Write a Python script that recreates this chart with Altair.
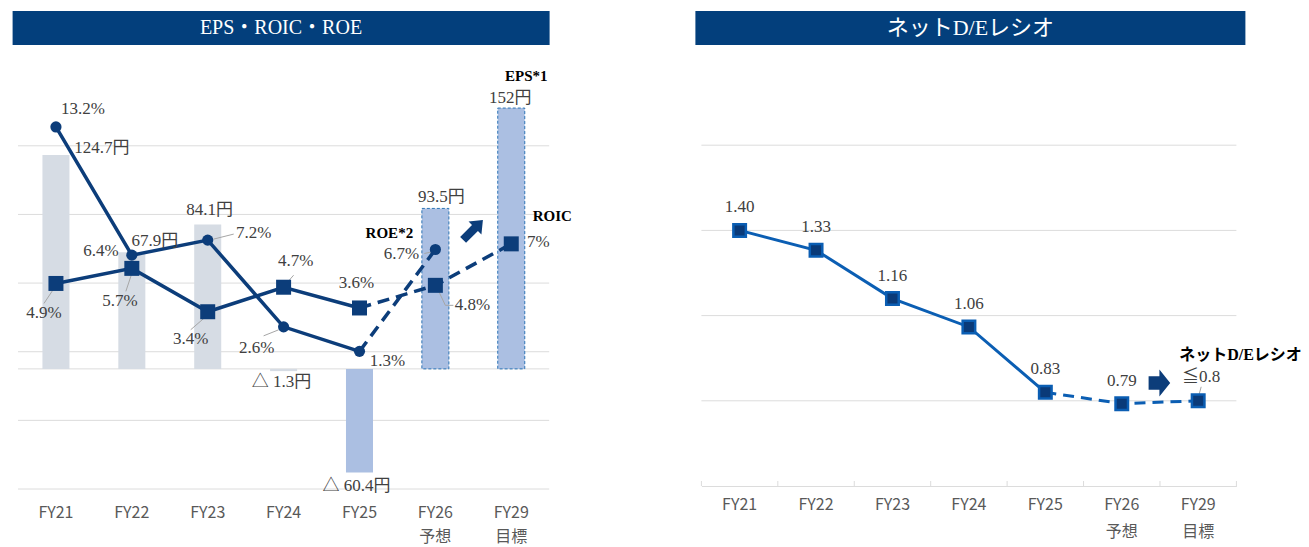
import altair as alt
import pandas as pd

# ---------------- data ----------------
cats = ["FY21", "FY22", "FY23", "FY24", "FY25", "FY26", "FY29"]
sub_labels = {"FY26": "予想", "FY29": "目標"}
eps = [124.7, 67.9, 84.1, -1.3, -60.4, 93.5, 152.0]
roe = [13.2, 6.4, 7.2, 2.6, 1.3, 6.7, None]
roic = [4.9, 5.7, 3.4, 4.7, 3.6, 4.8, 7.0]
net_de = [1.40, 1.33, 1.16, 1.06, 0.83, 0.79, 0.80]
eps_gridlines = [-70, -30, 0, 10, 50, 90, 130]
de_gridlines = [0.8, 1.1, 1.4, 1.7]
left_title = "EPS・ROIC・ROE"
right_title = "ネットD/Eレシオ"
actual_cats = ["FY21", "FY22", "FY23", "FY24", "FY25"]
plan_cats = ["FY25", "FY26", "FY29"]
blue_bar_cats = ["FY25", "FY26", "FY29"]
dashed_bar_cats = ["FY26", "FY29"]


def pct_txt(v):
    return None if v is None else f"{v:g}%"


def eps_txt(v):
    return f"△ {-v:g}円" if v < 0 else f"{v:g}円"


de_txt = [f"{v:.2f}" for v in net_de[:-1]] + [f"≦{net_de[-1]:g}"]

df = pd.DataFrame({
    "cat": cats,
    "eps": eps,
    "roe": roe,
    "roic": roic,
    "de": net_de,
    "roe_txt": [pct_txt(v) for v in roe],
    "roic_txt": [pct_txt(v) for v in roic],
    "eps_txt": [eps_txt(v) for v in eps],
    "de_txt": de_txt,
})

# ---------------- layout / style ----------------
W_L, H_L = 531.2, 429
W_R, H_R = 535, 426
SERIF = "Liberation Serif, Noto Sans CJK JP"
SANS = "Noto Sans CJK JP"
BANNER = "#033F7C"
NAVY = "#0C3D7A"
DE_BLUE = "#0B5EB3"
GRAY_BAR = "#D6DCE4"
BLUE_BAR = "#ABBFE2"
GRID = "#DCDCDC"
LABEL = "#404040"
AXLAB = "#595959"
LEADER = "#A6A6A6"

label_expr = "datum.value"
for k, v in sub_labels.items():
    label_expr = f"datum.value == '{k}' ? ['{k}', '{v}'] : " + label_expr

axis_left = alt.Axis(title=None, domain=False, ticks=False, tickSize=0, grid=False,
                     labelAngle=0, labelFont=SANS, labelFontSize=16, labelColor=AXLAB,
                     labelPadding=15, labelBaseline="top", labelLineHeight=24,
                     labelExpr=label_expr)
axis_right = alt.Axis(title=None, domain=True, domainColor=GRID, domainWidth=1,
                      ticks=False, tickSize=0, grid=False, labelAngle=0, labelFont=SANS,
                      labelFontSize=16, labelColor=AXLAB, labelPadding=10,
                      labelBaseline="top", labelLineHeight=27, labelExpr=label_expr)

xs_left = alt.Scale(domain=cats, paddingInner=0.644, paddingOuter=0.322)
xs_right = alt.Scale(domain=cats, paddingInner=0, paddingOuter=0)
eps_scale = alt.Scale(domain=[-70, 180], nice=False, zero=False)
pct_scale = alt.Scale(domain=[-6, 16.75], nice=False, zero=False)
de_scale = alt.Scale(domain=[0.5, 2.0], nice=False, zero=False)


def XL(**kw):
    return alt.X("cat:N", scale=xs_left, sort=cats, axis=axis_left, **kw)


def XR(**kw):
    return alt.X("cat:N", scale=xs_right, sort=cats, axis=axis_right, **kw)


def in_list(cs):
    return "indexof([" + ",".join(f"'{c}'" for c in cs) + "], datum.cat) >= 0"


base = alt.Chart(df)

# label offsets (pixels, relative to the mark anchor)
roe_off = {"FY21": (27, -18), "FY22": (-31, -4), "FY23": (46, -7), "FY24": (-27, 21),
           "FY25": (28, 10), "FY26": (-34, 4)}
roic_off = {"FY21": (-12, 30), "FY22": (-12, 33), "FY23": (-17, 27), "FY24": (12, -26),
            "FY25": (-3, -25), "FY26": (37, 20), "FY29": (27, -2)}
eps_off = {"FY21": (46, -7), "FY22": (23, -11), "FY23": (2, -15), "FY24": (-2, 11),
           "FY25": (-3, 13), "FY26": (6, -11), "FY29": (-1, -10)}
de_off = {c: (0, -23) for c in cats}
de_off["FY29"] = (3, -24)

left_leaders = [("roic", "FY21", (-2, 5), (-12, 20)), ("roic", "FY22", (0, 5), (-6, 23)),
                ("roic", "FY23", (-2, 5), (-17, 18)), ("roic", "FY24", (3, -4), (10, -12)),
                ("roe", "FY23", (6, -1), (26, -6)), ("roe", "FY24", (-5, 3), (-20, 9)),
                ("roe", "FY26", (-2, 2), (-11, 4)), ("roic", "FY26", (1, 1), (10, 20))]

layers_l = []
# gridlines
layers_l.append(alt.Chart(pd.DataFrame({"g": eps_gridlines})).mark_rule(color=GRID, strokeWidth=1)
                .encode(y=alt.Y("g:Q", scale=eps_scale, axis=None)))
# bars
layers_l.append(base.mark_bar(strokeDash=[3, 2], strokeWidth=1).encode(
    x=XL(), y=alt.Y("eps:Q", scale=eps_scale, axis=None), y2=alt.datum(0),
    color=alt.condition(in_list(blue_bar_cats), alt.value(BLUE_BAR), alt.value(GRAY_BAR)),
    stroke=alt.condition(in_list(dashed_bar_cats), alt.value("#2E75B6"), alt.value("transparent")),
))
# leaders
for fld, c, (a, b), (cc, d) in left_leaders:
    layers_l.append(base.transform_filter(f"datum.cat == '{c}'").mark_rule(
        color=LEADER, strokeWidth=1, xOffset=a, yOffset=b, x2Offset=cc, y2Offset=d).encode(
        x=XL(bandPosition=0.5), x2=alt.X2("cat:N", bandPosition=0.5),
        y=alt.Y(f"{fld}:Q", scale=pct_scale, axis=None), y2=alt.Y2(f"{fld}:Q")))
layers_l.append(base.transform_filter("datum.cat == 'FY26'").mark_rule(
    color=LEADER, strokeWidth=1, xOffset=10, yOffset=20, x2Offset=18, y2Offset=20).encode(
    x=XL(bandPosition=0.5), x2=alt.X2("cat:N", bandPosition=0.5),
    y=alt.Y("roic:Q", scale=pct_scale, axis=None), y2=alt.Y2("roic:Q")))

# lines
for fld, cs, dash in [("roe", actual_cats, None), ("roe", ["FY25", "FY26"], [12, 7]),
                      ("roic", actual_cats, None), ("roic", plan_cats, [12, 7])]:
    kw = dict(color=NAVY, strokeWidth=3.5)
    if dash:
        kw["strokeDash"] = dash
    layers_l.append(base.transform_filter(in_list(cs)).transform_filter(f"isValid(datum.{fld})")
                    .mark_line(**kw).encode(x=XL(), y=alt.Y(f"{fld}:Q", scale=pct_scale, axis=None)))
# markers
layers_l.append(base.transform_filter("isValid(datum.roe)").mark_point(
    shape="circle", filled=True, opacity=1, color=NAVY, size=125).encode(
    x=XL(), y=alt.Y("roe:Q", scale=pct_scale, axis=None)))
layers_l.append(base.mark_point(shape="square", filled=True, opacity=1, color=NAVY, size=225).encode(
    x=XL(), y=alt.Y("roic:Q", scale=pct_scale, axis=None)))

# value labels
for fld, offs, sc, txt in [("roe", roe_off, pct_scale, "roe_txt"), ("roic", roic_off, pct_scale, "roic_txt"),
                           ("eps", eps_off, eps_scale, "eps_txt")]:
    for c, (dx, dy) in offs.items():
        layers_l.append(base.transform_filter(f"datum.cat == '{c}'").mark_text(
            font=SERIF, fontSize=17, color=LABEL, dx=dx, dy=dy, baseline="middle", align="center").encode(
            x=XL(), y=alt.Y(f"{fld}:Q", scale=sc, axis=None), text=f"{txt}:N"))

# series name labels
for fld, c, sc, name, dx, dy in [("eps", "FY29", eps_scale, "EPS*1", 15, -32),
                                 ("roe", "FY26", pct_scale, "ROE*2", -46, -17),
                                 ("roic", "FY29", pct_scale, "ROIC", 41, -28)]:
    layers_l.append(base.transform_filter(f"datum.cat == '{c}'").mark_text(
        font=SERIF, fontSize=15, fontWeight="bold", color="#000000", dx=dx, dy=dy,
        baseline="middle", align="center", text=name).encode(
        x=XL(), y=alt.Y(f"{fld}:Q", scale=sc, axis=None)))

# arrow
arrow_ne = "M-1,-0.3 L0.2,-0.3 L0.2,-0.65 L1,0 L0.2,0.65 L0.2,0.3 L-1,0.3 Z"
layers_l.append(alt.Chart(pd.DataFrame({"a": [1]})).mark_point(
    shape=arrow_ne, filled=True, opacity=1, color=NAVY, size=784, angle=315).encode(
    x=alt.value(455), y=alt.value(170)))

# banner
tdf_l = pd.DataFrame({"t": [left_title]})
layers_l.append(alt.Chart(tdf_l).mark_rect(color=BANNER).encode(
    x=alt.value(-5.4), x2=alt.value(531.6), y=alt.value(-49), y2=alt.value(-15)))
layers_l.append(alt.Chart(tdf_l).mark_text(font=SERIF, fontSize=20, color="white",
                                          baseline="middle", align="center").encode(
    x=alt.value(263), y=alt.value(-32), text="t:N"))

left = alt.layer(*layers_l).resolve_scale(y="independent").properties(width=W_L, height=H_L)

# ---------------- right chart ----------------
layers_r = []
layers_r.append(alt.Chart(pd.DataFrame({"g": de_gridlines})).mark_rule(color=GRID, strokeWidth=1)
                .encode(y=alt.Y("g:Q", scale=de_scale, axis=None)))
layers_r.append(base.mark_rule(color=GRID, strokeWidth=1).encode(
    x=XR(bandPosition=0), y=alt.value(H_R - 5), y2=alt.value(H_R)))
layers_r.append(base.transform_filter(f"datum.cat == '{cats[-1]}'").mark_rule(color=GRID, strokeWidth=1).encode(
    x=XR(bandPosition=1), y=alt.value(H_R - 5), y2=alt.value(H_R)))
layers_r.append(base.transform_filter(f"datum.cat == '{cats[-1]}'").mark_rule(
    color=LEADER, strokeWidth=1, xOffset=0, yOffset=-3, x2Offset=3, y2Offset=-14).encode(
    x=XR(bandPosition=0.5), x2=alt.X2("cat:N", bandPosition=0.5),
    y=alt.Y("de:Q", scale=de_scale, axis=None), y2=alt.Y2("de:Q")))
layers_r.append(base.transform_filter(in_list(actual_cats)).mark_line(color=DE_BLUE, strokeWidth=3).encode(
    x=XR(), y=alt.Y("de:Q", scale=de_scale, axis=None)))
layers_r.append(base.transform_filter(in_list(plan_cats)).mark_line(
    color=DE_BLUE, strokeWidth=3, strokeDash=[11, 7]).encode(
    x=XR(), y=alt.Y("de:Q", scale=de_scale, axis=None)))
layers_r.append(base.mark_point(shape="square", filled=True, opacity=1, fill="#0A3A78",
                                stroke=DE_BLUE, strokeWidth=2.5, size=156).encode(
    x=XR(), y=alt.Y("de:Q", scale=de_scale, axis=None)))
for c, (dx, dy) in de_off.items():
    layers_r.append(base.transform_filter(f"datum.cat == '{c}'").mark_text(
        font=SERIF, fontSize=17, color=LABEL, dx=dx, dy=dy, baseline="middle", align="center").encode(
        x=XR(), y=alt.Y("de:Q", scale=de_scale, axis=None), text="de_txt:N"))
layers_r.append(base.transform_filter(f"datum.cat == '{cats[-1]}'").mark_text(
    font=SERIF, fontSize=16, fontWeight="bold", color="#000000", dx=-19, dy=-46,
    baseline="middle", align="left", text=right_title).encode(
    x=XR(), y=alt.Y("de:Q", scale=de_scale, axis=None)))
arrow_r = "M-0.8,-0.5 L0,-0.5 L0,-1 L0.8,0 L0,1 L0,0.5 L-0.8,0.5 Z"
layers_r.append(alt.Chart(pd.DataFrame({"a": [1]})).mark_point(
    shape=arrow_r, filled=True, opacity=1, color=NAVY, size=729).encode(
    x=alt.value(458), y=alt.value(323)))
tdf_r = pd.DataFrame({"t": [right_title]})
layers_r.append(alt.Chart(tdf_r).mark_rect(color=BANNER).encode(
    x=alt.value(-6), x2=alt.value(544), y=alt.value(-49), y2=alt.value(-15)))
layers_r.append(alt.Chart(tdf_r).mark_text(font=SERIF, fontSize=22, color="white",
                                          baseline="middle", align="center").encode(
    x=alt.value(269), y=alt.value(-32), text="t:N"))

right = alt.layer(*layers_r).resolve_scale(y="independent").properties(width=W_R, height=H_R)

chart = alt.hconcat(left, right, spacing=151.4, bounds="flush").properties(
    padding={"left": 12, "top": 11, "right": 0, "bottom": 6},
    background="white",
).configure_view(stroke=None)

chart.save("out.html", embed_options={"renderer": "svg", "actions": False})
